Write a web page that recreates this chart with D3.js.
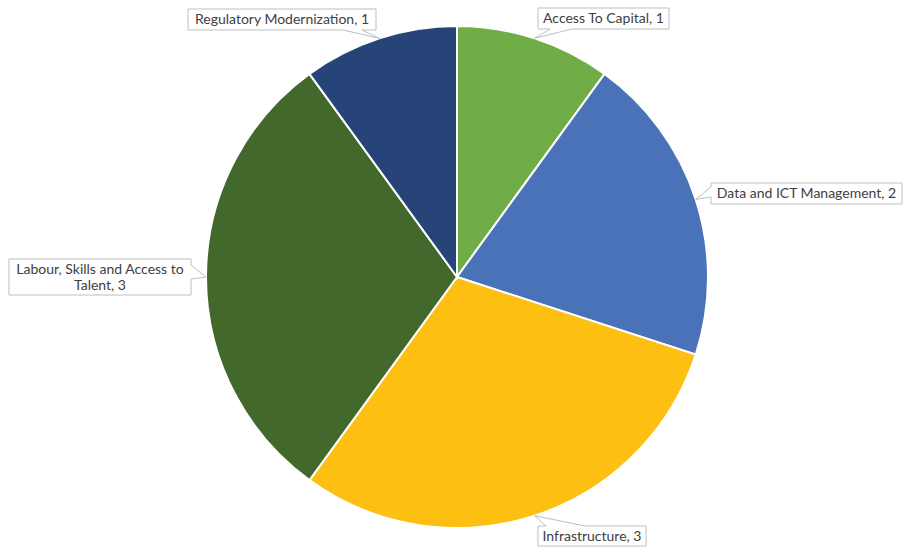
<!DOCTYPE html>
<html>
<head>
<meta charset="utf-8">
<script src="https://cdn.jsdelivr.net/npm/d3@7"></script>
<style>
  body { margin: 0; background: #fff; }
  text { font-family: Lato, "Open Sans", sans-serif; }
</style>
</head>
<body>
<script>
// Chart data
const categories = ["Access To Capital", "Data and ICT Management", "Infrastructure", "Labour, Skills and Access to Talent", "Regulatory Modernization"];
const values = [1, 2, 3, 3, 1];
const colors = ["#70ad47", "#4a72b8", "#fcbf12", "#43682b", "#264478"];

const width = 903, height = 550;
const cx = 457, cy = 277, radius = 251;

// Callout boxes: box rect, side the pointer leaves from, pointer base span on that side
const callouts = {
  "Access To Capital": { x: 538, y: 8, w: 131, h: 21, side: "bottom", a: 550, b: 572 },
  "Data and ICT Management": { x: 711, y: 183, w: 191, h: 21, side: "left", a: 187, b: 197 },
  "Infrastructure": { x: 538, y: 526, w: 108, h: 20, side: "top", a: 546, b: 585 },
  "Labour, Skills and Access to Talent": { x: 9, y: 259, w: 182, h: 36, side: "right", a: 265, b: 279 },
  "Regulatory Modernization": { x: 188, y: 9, w: 188, h: 21, side: "bottom", a: 343, b: 362 }
};

const svg = d3.select("body").append("svg")
  .attr("width", width)
  .attr("height", height);

const pie = d3.pie().sort(null).value(d => d.value);
const arc = d3.arc().innerRadius(0).outerRadius(radius);

const data = categories.map((c, i) => ({ name: c, value: values[i], color: colors[i] }));
const arcs = pie(data);

const g = svg.append("g").attr("transform", `translate(${cx},${cy})`);

g.selectAll("path")
  .data(arcs)
  .join("path")
  .attr("d", arc)
  .attr("fill", d => d.data.color)
  .attr("stroke", "#fff")
  .attr("stroke-width", 2);

// Build a callout outline with the pointer inserted on one side
function calloutPath(c, tip) {
  const x0 = c.x, y0 = c.y, x1 = c.x + c.w, y1 = c.y + c.h;
  const t = `${tip[0]},${tip[1]}`;
  if (c.side === "bottom")
    return `M${x0},${y0}H${x1}V${y1}H${c.b}L${t}L${c.a},${y1}H${x0}Z`;
  if (c.side === "top")
    return `M${x0},${y0}H${c.a}L${t}L${c.b},${y0}H${x1}V${y1}H${x0}Z`;
  if (c.side === "left")
    return `M${x0},${y0}H${x1}V${y1}H${x0}V${c.b}L${t}L${x0},${c.a}Z`;
  return `M${x0},${y0}H${x1}V${c.a}L${t}L${x1},${c.b}V${y1}H${x0}Z`;
}

const labels = svg.append("g");

arcs.forEach(d => {
  const c = callouts[d.data.name];
  const mid = (d.startAngle + d.endAngle) / 2;
  const tip = [cx + radius * Math.sin(mid), cy - radius * Math.cos(mid)];

  labels.append("path")
    .attr("d", calloutPath(c, tip))
    .attr("fill", "#fff")
    .attr("stroke", "#bfbfbf")
    .attr("stroke-width", 1);

  const text = `${d.data.name}, ${d.data.value}`;
  const lines = c.h > 25 ? ["Labour, Skills and Access to", "Talent, 3"] : [text];
  // two-line labels get slightly more line height so the rows do not touch
  lines.forEach((ln, i) => {
    labels.append("text")
      .attr("text-anchor", "middle")
      .attr("font-size", "14px")
      .attr("fill", "#404040")
      .attr("x", c.x + c.w / 2)
      .attr("y", c.y + 15 + i * 16)
      .text(ln);
  });
});
</script>
</body>
</html>
